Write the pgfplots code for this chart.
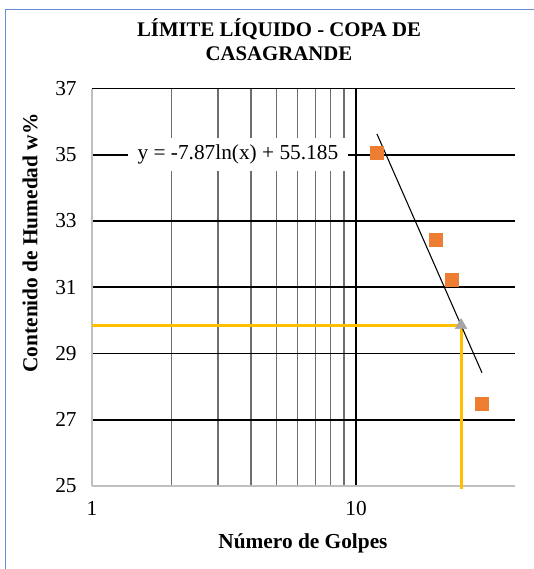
\documentclass[border=0pt]{standalone}
\usepackage{pgfplots}
\pgfplotsset{compat=1.18}
\usepackage{fontspec}
\setmainfont{Liberation Serif}
\definecolor{orangeX}{HTML}{ED7D31}
\definecolor{goldX}{HTML}{FFC000}
\definecolor{grayX}{HTML}{A5A5A5}
\definecolor{minorX}{HTML}{6E6E6E}
\definecolor{axisX}{HTML}{BFBFBF}
\definecolor{frameX}{RGB}{100,140,215}
\begin{document}
\begin{tikzpicture}
\path[use as bounding box] (0,0) rectangle (400.5pt,426.75pt);
\draw[frameX, line width=0.8pt] (4.1pt,0) -- (4.1pt,419.6pt) -- (400.5pt,419.6pt);
\node[align=center, font=\fontsize{15.6}{18}\selectfont\bfseries] at (209.25pt,396.75pt) {LÍMITE LÍQUIDO - COPA DE\\CASAGRANDE};
\begin{axis}[
  at={(69pt,62.25pt)}, anchor=south west,
  width=317.25pt, height=298.1pt, scale only axis,
  xmode=log, xmin=1, xmax=40, ymin=25, ymax=37,
  xtick={1,10}, xticklabels={1,10},
  ytick={25,27,...,37},
  grid=both,
  major grid style={black, line width=1.2pt},
  minor grid style={minorX, line width=0.9pt},
  major tick length=0pt, minor tick length=0pt,
  axis lines*=left,
  axis line style={-, draw=axisX, line width=1.1pt},
  tick label style={font=\fontsize{16}{19}\selectfont},
  /pgf/number format/assume math mode=true,
  yticklabel style={xshift=-8pt},
  xticklabel style={yshift=-8pt},
  clip=false,
]
\addplot[only marks, mark=triangle*, mark size=5pt, color=grayX] coordinates {(25,29.8525)};
\addplot[goldX, line width=2.2pt] coordinates {(1,29.8525) (25,29.8525) (25,24.92)};
\addplot[black, line width=0.8pt] coordinates {(12,35.6288) (30,28.4176)};
\addplot[only marks, mark=square*, mark size=5pt, color=orangeX] coordinates {(12,35.07) (20,32.44) (23,31.22) (30,27.48)};
\node[fill=white, inner xsep=7pt, minimum height=25pt, font=\fontsize{16}{19}\selectfont] at (axis cs:3.57,35) {y = -7.87ln(x) + 55.185};
\end{axis}
\node[font=\fontsize{16}{19}\selectfont\bfseries] at (227.25pt,19.5pt) {Número de Golpes};
\node[rotate=90, font=\fontsize{16}{19}\selectfont\bfseries] at (22.5pt,244.5pt) {Contenido de Humedad w\%};
\end{tikzpicture}
\end{document}
